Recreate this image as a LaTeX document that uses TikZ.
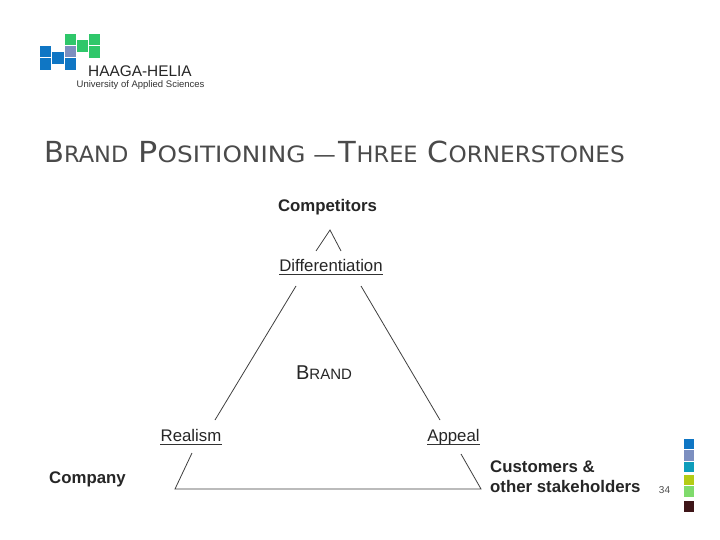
\documentclass[tikz,border=0pt]{standalone}
\usepackage{fontspec}
\setmainfont{Liberation Sans}
\newfontfamily\titlefont{DejaVu Sans}
\definecolor{tgray}{HTML}{4A4A4A}
\definecolor{lblue}{HTML}{0F76C4}
\definecolor{lperi}{HTML}{7C8FC0}
\definecolor{lteal}{HTML}{0E9DBB}
\definecolor{lgreen}{HTML}{2FC76A}
\definecolor{slime}{HTML}{B4CC14}
\definecolor{sgreen}{HTML}{7FDB6C}
\definecolor{sbrown}{HTML}{3E1518}
\tikzset{
  box/.style={draw=none,fill=#1},
  lab/.style={inner sep=0pt,text=black!85,text height=12pt,text depth=3pt,font=\fontsize{16.8}{18}\selectfont},
  blab/.style={inner sep=0pt,text=black!85,font=\fontsize{16.8}{20}\selectfont\bfseries,align=left},
  ul/.style={draw=black!80,line width=0.7pt},
  tri/.style={draw=black!75,line width=0.8pt},
}
\newcommand{\bigc}[2]{{\fontsize{29}{32}\selectfont #1}{\fontsize{22.5}{32}\selectfont #2}}
\begin{document}
\begin{tikzpicture}[x=1pt,y=-1pt]
\useasboundingbox (0,0) rectangle (720,540);
\fill[white] (0,0) rectangle (720,540);
% logo
\fill[box=lblue] (40,46) rectangle (51,57.5);
\fill[box=lblue] (40,58.5) rectangle (51,70);
\fill[box=lblue] (52,52) rectangle (64,64);
\fill[box=lperi] (65,46) rectangle (76,57.5);
\fill[box=lblue] (65,58.5) rectangle (76,70);
\fill[box=lgreen] (65,34) rectangle (76,45);
\fill[box=lgreen] (77,40) rectangle (88,52);
\fill[box=lgreen] (89,34) rectangle (100,45);
\fill[box=lgreen] (89,46.5) rectangle (100,58);
\node[inner sep=0pt,anchor=west,text=black!85,font=\fontsize{15.4}{17}\selectfont] (hh) at (88,71) {HAAGA-HELIA};
\node[inner sep=0pt,anchor=west,text=black!80,font=\fontsize{9.5}{11}\selectfont] (uas) at (76.5,85.5) {University of Applied Sciences};
% title
\node[inner sep=0pt,anchor=base west,text=tgray] (title) at (44,163) {\titlefont\bigc{B}{RAND}\hspace{10pt}\scalebox{1.1}[1]{\bigc{P}{OSITIONING}}\hspace{8pt}\bigc{}{—}\hspace{3pt}\bigc{T}{HREE}\hspace{10pt}\scalebox{1.03}[1]{\bigc{C}{ORNERSTONES}}};
% diagram labels
\node[blab] (comp) at (327.5,207) {Competitors};
\node[lab] (diff) at (331,267) {Differentiation};
\draw[ul] (diff.south west) -- (diff.south east);
\node[inner sep=0pt,text=black!85] (brand) at (324,373) {{\fontsize{20}{22}\selectfont B}{\fontsize{15}{22}\selectfont RAND}};
\node[lab] (real) at (191,436.5) {Realism};
\draw[ul] (real.south west) -- (real.south east);
\node[lab] (app) at (453.5,436.5) {Appeal};
\draw[ul] (app.south west) -- (app.south east);
\node[blab,anchor=west] (company) at (49,479) {Company};
\node[blab,anchor=west] (cust) at (490,477) {Customers \&\\other stakeholders};
% triangle
\coordinate (a1) at (316,251);
\coordinate (a2) at (330,230);
\coordinate (a3) at (341,251);
\draw[tri,line join=miter] (a1) -- (a2) -- (a3);
\coordinate (l1) at (296,286);
\coordinate (l2) at (215,420);
\coordinate (r1) at (361,286);
\coordinate (r2) at (440,420);
\draw[tri] (l1) -- (l2);
\draw[tri] (r1) -- (r2);
\coordinate (b1) at (192,453);
\coordinate (b2) at (175,489);
\coordinate (b3) at (481,489);
\coordinate (b4) at (461,454);
\draw[tri] (b1) -- (b2) -- (b3) -- (b4);
% page number
\node[inner sep=0pt,text=black!70,font=\fontsize{10}{12}\selectfont] (pg) at (664.5,490.5) {34};
% side squares
\fill[box=lblue] (684,439) rectangle (694,449);
\fill[box=lperi] (684,450) rectangle (694,461);
\fill[box=lteal] (684,462) rectangle (694,472);
\fill[box=slime] (684,475) rectangle (694,485);
\fill[box=sgreen] (684,486) rectangle (694,497);
\fill[box=sbrown] (684,501) rectangle (694,512);
\end{tikzpicture}
\end{document}
